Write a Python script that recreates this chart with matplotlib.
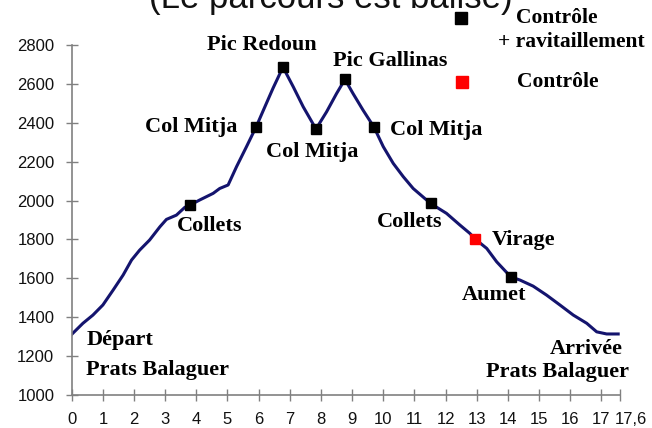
import matplotlib.pyplot as plt
from matplotlib.transforms import ScaledTranslation

# Profil du parcours (km, altitude en m)
distance = [0.0, 0.36, 0.68, 1.0, 1.33, 1.65, 1.92, 2.18, 2.5, 2.83, 3.04, 3.36, 3.63,
            3.8, 4.11, 4.54, 4.75, 5.02, 5.29, 5.61, 5.92, 6.2, 6.46, 6.78, 7.11, 7.43,
            7.84, 8.18, 8.5, 8.77, 9.03, 9.35, 9.7, 10.0, 10.32, 10.64, 10.96, 11.52,
            12.03, 12.46, 12.78, 12.95, 13.32, 13.64, 14.09, 14.39, 14.81, 15.24, 15.67,
            16.1, 16.53, 16.85, 17.17, 17.54]
altitude = [1312, 1369, 1411, 1463, 1540, 1617, 1694, 1745, 1797, 1865, 1903, 1925, 1965,
            1977, 2003, 2037, 2062, 2080, 2174, 2277, 2379, 2482, 2577, 2686, 2585, 2482,
            2368, 2456, 2550, 2623, 2550, 2465, 2378, 2277, 2191, 2123, 2062, 1985,
            1934, 1874, 1831, 1802, 1754, 1685, 1608, 1591, 1560, 1514, 1463,
            1411, 1369, 1325, 1314, 1314]

# Postes de contrôle + ravitaillement
ravito_km = [3.8, 5.92, 6.78, 7.84, 8.77, 9.7, 11.52, 14.09]
ravito_alt = [1977, 2379, 2686, 2368, 2623, 2378, 1985, 1608]

# Contrôle seul
controle_km = [12.95]
controle_alt = [1802]

xticks = list(range(18)) + [17.6]
xticklabels = [str(i) for i in range(18)] + ['17,6']
yticks = list(range(1000, 2801, 200))

# (texte, x, y, alignement)
labels = [
    ('Départ', 0.48, 1282, 'left'),
    ('Prats Balaguer', 0.47, 1127, 'left'),
    ('Collets', 4.43, 1869, 'center'),
    ('Col Mitja', 5.33, 2378, 'right'),
    ('Pic Redoun', 6.1, 2800, 'center'),
    ('Col Mitja', 7.72, 2247, 'center'),
    ('Pic Gallinas', 10.23, 2717, 'center'),
    ('Col Mitja', 10.21, 2362, 'left'),
    ('Collets', 11.9, 1889, 'right'),
    ('Virage', 13.48, 1795, 'left'),
    ('Aumet', 13.57, 1514, 'center'),
    ('Arrivée', 16.5, 1236, 'center'),
    ('Prats Balaguer', 15.6, 1118, 'center'),
]

serif = ['Liberation Serif', 'DejaVu Serif']
sans = ['Liberation Sans', 'DejaVu Sans']

fig = plt.figure(figsize=(6.52, 4.28), dpi=100)
ax = fig.add_axes([0.110, 0.077, 0.841, 0.818])

ax.plot(distance, altitude, color='#14146e', linewidth=2.2, zorder=2)
ax.plot(ravito_km, ravito_alt, linestyle='none', marker='s', markersize=7,
        color='black', zorder=3)
ax.plot(controle_km, controle_alt, linestyle='none', marker='s', markersize=7,
        color='#ff0000', zorder=3)

ax.set_xlim(0, 17.6)
ax.set_ylim(1000, 2800)
ax.set_xticks(xticks)
ax.set_xticklabels(xticklabels)
ax.set_yticks(yticks)

for side in ['top', 'right']:
    ax.spines[side].set_visible(False)
for side in ['left', 'bottom']:
    ax.spines[side].set_color('#808080')
    ax.spines[side].set_linewidth(1.2)

ax.tick_params(axis='both', direction='inout', length=9, width=1, color='#808080',
               labelsize=12, labelcolor='#111111')
ax.tick_params(axis='y', pad=8)
ax.tick_params(axis='x', pad=8)
for lab in ax.get_xticklabels() + ax.get_yticklabels():
    lab.set_family(sans)

# decale "17,6" pour ne pas chevaucher "17"
last = ax.get_xticklabels()[-1]
last.set_transform(last.get_transform() + ScaledTranslation(0.11, 0, fig.dpi_scale_trans))

for txt, x, y, ha in labels:
    ax.text(x, y, txt, ha=ha, va='center', fontsize=16, fontweight='bold',
            family=serif, color='black')

# Légende
ax.plot([461 / 652], [1 - 18 / 428], marker='s', markersize=9, color='black',
        transform=fig.transFigure, clip_on=False)
ax.plot([462 / 652], [1 - 82 / 428], marker='s', markersize=9, color='#ff0000',
        transform=fig.transFigure, clip_on=False)
fig.text(516 / 652, 1 - 18 / 428, 'Contrôle', ha='left', va='center', fontsize=15.5,
         fontweight='bold', family=serif)
fig.text(498 / 652, 1 - 42 / 428, '+ ravitaillement', ha='left', va='center',
         fontsize=15.5, fontweight='bold', family=serif)
fig.text(517 / 652, 1 - 82 / 428, 'Contrôle', ha='left', va='center', fontsize=15.5,
         fontweight='bold', family=serif)

# Titre coupé en haut de l'image
fig.text(0.508, 1 - 8 / 428, '(Le parcours est balisé)', ha='center', va='baseline',
         fontsize=25, family=sans, color='#111111')

fig.savefig('out.png', dpi=100)
